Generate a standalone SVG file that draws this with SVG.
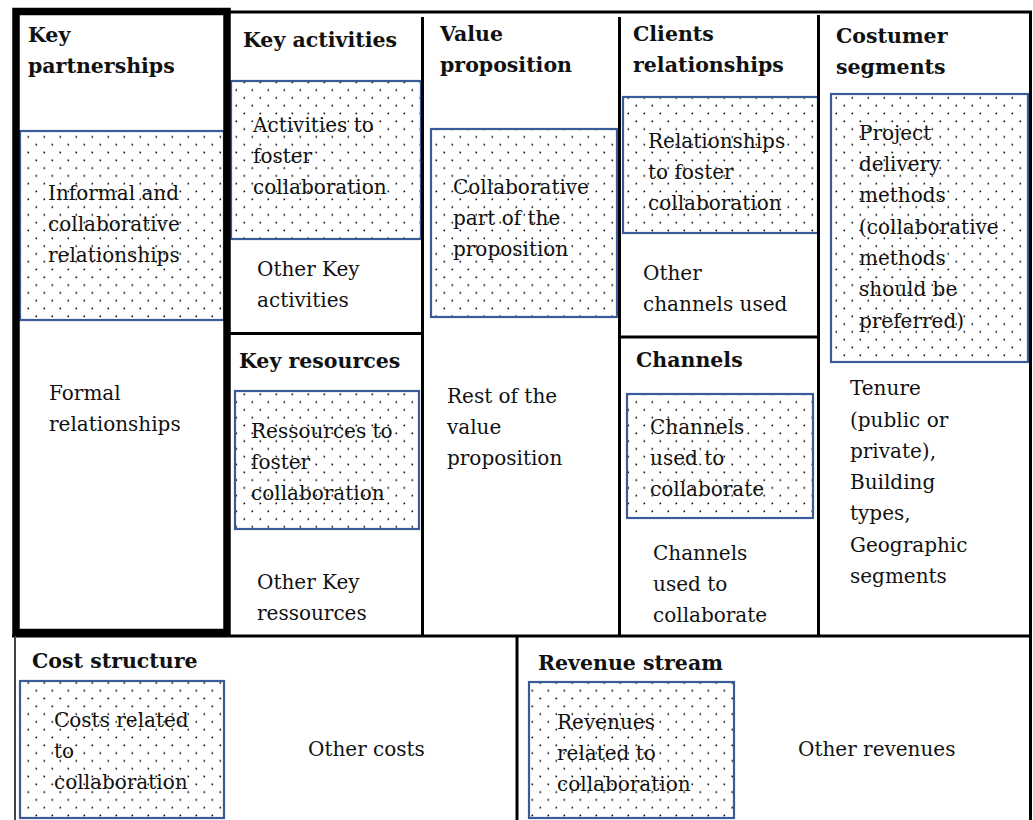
<svg xmlns="http://www.w3.org/2000/svg" width="1033" height="820" viewBox="0 0 1033 820">
<style>
.t{font-family:"DejaVu Serif","Liberation Serif",serif;font-size:20px;fill:#111}
.h{font-family:"DejaVu Serif","Liberation Serif",serif;font-size:20.5px;font-weight:bold;fill:#111}
.box{fill:url(#dots);stroke:#3A5A98;stroke-width:2.2}
.ln{stroke:#000;stroke-width:3;fill:none}
</style>
<defs>
<pattern id="dots" patternUnits="userSpaceOnUse" width="16" height="15.6">
<rect x="3.5" y="3.5" width="1.6" height="1.6" fill="#000"/>
<rect x="11.5" y="11.3" width="1.6" height="1.6" fill="#000"/>
</pattern>
</defs>
<rect x="0" y="0" width="1033" height="820" fill="#fff"/>

<g id="key-partnerships">
<rect class="box" x="20" y="131" width="204" height="189"/>
<text class="h" x="28" y="42">Key</text>
<text class="h" x="28" y="73">partnerships</text>
<text class="t" x="48" y="200">Informal and</text>
<text class="t" x="48" y="231">collaborative</text>
<text class="t" x="48" y="262">relationships</text>
<text class="t" x="49" y="400">Formal</text>
<text class="t" x="49" y="431">relationships</text>
</g>

<g id="key-activities">
<rect class="box" x="231" y="81" width="190" height="158"/>
<text class="h" x="243" y="47">Key activities</text>
<text class="t" x="253" y="132">Activities to</text>
<text class="t" x="253" y="163">foster</text>
<text class="t" x="253" y="194">collaboration</text>
<text class="t" x="257" y="276">Other Key</text>
<text class="t" x="257" y="307">activities</text>
</g>

<g id="key-resources">
<rect class="box" x="235" y="391" width="184" height="138"/>
<text class="h" x="239" y="368">Key resources</text>
<text class="t" x="251" y="438">Ressources to</text>
<text class="t" x="251" y="469">foster</text>
<text class="t" x="251" y="500">collaboration</text>
<text class="t" x="257" y="589">Other Key</text>
<text class="t" x="257" y="620">ressources</text>
</g>

<g id="value-proposition">
<rect class="box" x="431" y="129" width="186" height="188"/>
<text class="h" x="440" y="41">Value</text>
<text class="h" x="440" y="72">proposition</text>
<text class="t" x="453" y="194">Collaborative</text>
<text class="t" x="453" y="225">part of the</text>
<text class="t" x="453" y="256">proposition</text>
<text class="t" x="447" y="403">Rest of the</text>
<text class="t" x="447" y="434">value</text>
<text class="t" x="447" y="465">proposition</text>
</g>

<g id="clients-relationships">
<rect class="box" x="623" y="97" width="195" height="136"/>
<text class="h" x="633" y="41">Clients</text>
<text class="h" x="633" y="72">relationships</text>
<text class="t" x="648" y="148">Relationships</text>
<text class="t" x="648" y="179">to foster</text>
<text class="t" x="648" y="210">collaboration</text>
<text class="t" x="643" y="280">Other</text>
<text class="t" x="643" y="311">channels used</text>
</g>

<g id="channels">
<rect class="box" x="627" y="394" width="186" height="124"/>
<text class="h" x="636" y="367">Channels</text>
<text class="t" x="650" y="434">Channels</text>
<text class="t" x="650" y="465">used to</text>
<text class="t" x="650" y="496">collaborate</text>
<text class="t" x="653" y="560">Channels</text>
<text class="t" x="653" y="591">used to</text>
<text class="t" x="653" y="622">collaborate</text>
</g>

<g id="customer-segments">
<rect class="box" x="831" y="94" width="197" height="268"/>
<text class="h" x="836" y="43">Costumer</text>
<text class="h" x="836" y="74">segments</text>
<text class="t" x="859" y="140">Project</text>
<text class="t" x="859" y="171">delivery</text>
<text class="t" x="859" y="202">methods</text>
<text class="t" x="859" y="234">(collaborative</text>
<text class="t" x="859" y="265">methods</text>
<text class="t" x="859" y="296">should be</text>
<text class="t" x="859" y="328">preferred)</text>
<text class="t" x="850" y="395">Tenure</text>
<text class="t" x="850" y="427">(public or</text>
<text class="t" x="850" y="458">private),</text>
<text class="t" x="850" y="489">Building</text>
<text class="t" x="850" y="520">types,</text>
<text class="t" x="850" y="552">Geographic</text>
<text class="t" x="850" y="583">segments</text>
</g>

<g id="cost-structure">
<rect class="box" x="20" y="681" width="204" height="137"/>
<text class="h" x="32" y="668">Cost structure</text>
<text class="t" x="54" y="727">Costs related</text>
<text class="t" x="54" y="758">to</text>
<text class="t" x="54" y="789">collaboration</text>
<text class="t" x="308" y="756">Other costs</text>
</g>

<g id="revenue-stream">
<rect class="box" x="529" y="682" width="205" height="136"/>
<text class="h" x="538" y="670">Revenue stream</text>
<text class="t" x="557" y="729">Revenues</text>
<text class="t" x="557" y="760">related to</text>
<text class="t" x="557" y="791">collaboration</text>
<text class="t" x="798" y="756">Other revenues</text>
</g>

<g id="connectors">
<line class="ln" x1="228" y1="12" x2="1032" y2="12"/>
<line class="ln" x1="1030.5" y1="11" x2="1030.5" y2="820"/>
<line class="ln" x1="422.5" y1="17" x2="422.5" y2="636"/>
<line class="ln" x1="619.5" y1="17" x2="619.5" y2="636"/>
<line class="ln" x1="818.5" y1="15" x2="818.5" y2="636"/>
<line class="ln" x1="228" y1="333.5" x2="422" y2="333.5"/>
<line class="ln" x1="619" y1="337" x2="818" y2="337"/>
<line class="ln" x1="12" y1="636" x2="1032" y2="636"/>
<line x1="15" y1="636" x2="15" y2="820" stroke="#444" stroke-width="2"/>
<line class="ln" x1="517" y1="637" x2="517" y2="820"/>
<rect x="16" y="11.5" width="211" height="621" fill="none" stroke="#000" stroke-width="7.5"/>
</g>
</svg>
